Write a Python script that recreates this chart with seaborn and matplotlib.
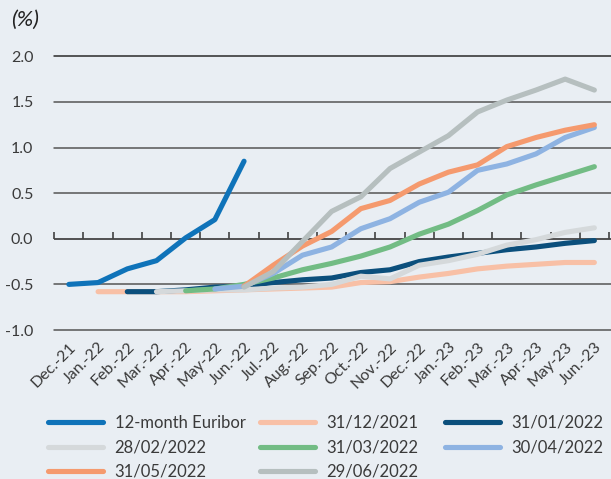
import matplotlib
matplotlib.use("Agg")
import matplotlib.pyplot as plt
import seaborn as sns
import pandas as pd
import numpy as np
from matplotlib.lines import Line2D

months = ["Dec.-21", "Jan.-22", "Feb.-22", "Mar.-22", "Apr.-22", "May-22", "Jun.-22",
          "Jul.-22", "Aug.-22", "Sep.-22", "Oct.-22", "Nov.-22", "Dec.-22", "Jan.-23",
          "Feb.-23", "Mar.-23", "Apr.-23", "May-23", "Jun.-23"]

euribor = [-0.50, -0.48, -0.33, -0.24, 0.01, 0.21, 0.85]
fwd_20211231 = [-0.58, -0.58, -0.58, -0.58, -0.57, -0.56, -0.55, -0.54, -0.53, -0.48,
                -0.47, -0.42, -0.38, -0.33, -0.30, -0.28, -0.26, -0.26]
fwd_20220131 = [-0.58, -0.58, -0.56, -0.53, -0.52, -0.48, -0.45, -0.43, -0.37, -0.34,
                -0.25, -0.20, -0.16, -0.12, -0.09, -0.05, -0.02]
fwd_20220228 = [-0.58, -0.57, -0.56, -0.56, -0.54, -0.53, -0.50, -0.41, -0.44, -0.29,
                -0.24, -0.17, -0.07, -0.01, 0.07, 0.12]
fwd_20220331 = [-0.57, -0.55, -0.50, -0.43, -0.34, -0.27, -0.19, -0.09, 0.05, 0.16,
                0.31, 0.48, 0.59, 0.69, 0.79]
fwd_20220430 = [-0.55, -0.52, -0.38, -0.18, -0.09, 0.11, 0.22, 0.40, 0.51, 0.75,
                0.82, 0.93, 1.11, 1.22]
fwd_20220531 = [-0.52, -0.29, -0.08, 0.08, 0.33, 0.42, 0.60, 0.73, 0.81, 1.01, 1.11,
                1.19, 1.25]
fwd_20220629 = [-0.53, -0.36, -0.03, 0.30, 0.46, 0.77, 0.95, 1.13, 1.39, 1.52, 1.63,
                1.75, 1.63]

series_names = ["12-month Euribor", "31/12/2021", "31/01/2022", "28/02/2022",
                "31/03/2022", "30/04/2022", "31/05/2022", "29/06/2022"]
series_values = [euribor, fwd_20211231, fwd_20220131, fwd_20220228,
                 fwd_20220331, fwd_20220430, fwd_20220531, fwd_20220629]
series_start = [0, 1, 2, 3, 4, 5, 6, 6]
colors = ["#0f73b9", "#f8c0a6", "#0b4f7c", "#d5d9db", "#72bc84", "#8eb3e2",
          "#f59a6e", "#b6bfbf"]

rows = []
for name, vals, st in zip(series_names, series_values, series_start):
    for k, v in enumerate(vals):
        rows.append({"series": name, "pos": st + k, "value": v})
df = pd.DataFrame(rows)

sns.set_theme(style="white")
plt.rcParams["font.family"] = ["Lato", "DejaVu Sans"]
bg = "#e9eef3"
txt = "#3a3a3a"

fig = plt.figure(figsize=(6.11, 4.79), dpi=100, facecolor=bg)
ax = fig.add_axes([54.3 / 611, 1 - 330 / 479, 1 - 54.3 / 611, (330 - 56.3) / 479])
ax.set_facecolor(bg)

# gridlines
for yv in [-1.0, -0.5, 0.5, 1.0, 1.5, 2.0]:
    ax.axhline(yv, color="#2a2a2a" if yv == 2.0 else "#555555", lw=1.1, zorder=1,
               clip_on=False)
ax.axhline(0.0, color="#444444", lw=1.3, zorder=1)

palette = dict(zip(series_names, colors))
draw_order = series_names[1:] + series_names[:1]
for name in draw_order:
    sub = df[df["series"] == name]
    sns.lineplot(data=sub, x="pos", y="value", color=palette[name], lw=3.7,
                 ax=ax, legend=False, zorder=3, solid_capstyle="round",
                 solid_joinstyle="round", clip_on=False)

ax.set_xlim(-0.5, 18.57)
ax.set_ylim(-1.0, 2.0)
ax.set_yticks([-1.0, -0.5, 0.0, 0.5, 1.0, 1.5, 2.0])
ax.set_yticklabels(["-1.0", "-0.5", "0.0", "0.5", "1.0", "1.5", "2.0"])
ax.tick_params(axis="y", length=0, pad=15, labelsize=11.5, labelcolor=txt)
ax.set_xticks(range(len(months)))
ax.set_xticklabels(months, rotation=45, ha="right", rotation_mode="anchor")
ax.tick_params(axis="x", length=0, pad=7, labelsize=11.5, labelcolor=txt)
ax.set_xlabel("")
ax.set_ylabel("")
for s in ax.spines.values():
    s.set_visible(False)

# tick marks on the zero line at month boundaries
sec = ax.secondary_xaxis(1 / 3)
sec.set_xticks(np.arange(len(months) + 1) - 0.5)
sec.set_xticklabels([])
for s in sec.spines.values():
    s.set_visible(False)
sec.xaxis.set_ticks_position("top")
sec.tick_params(axis="x", direction="out", length=5, width=1.1, color="#333333",
                labeltop=False)

fig.text(11 / 611, 1 - 20 / 479, "(%)", fontsize=16, style="italic", color="#222222",
         va="center", ha="left")

# legend: three fixed-width columns
handles = {n: Line2D([0], [0], color=c, lw=3.7, solid_capstyle="round")
           for n, c in zip(series_names, colors)}
columns = [["12-month Euribor", "28/02/2022", "31/05/2022"],
           ["31/12/2021", "31/03/2022", "29/06/2022"],
           ["31/01/2022", "30/04/2022"]]
col_x = [48, 260, 445]
for cx, names in zip(col_x, columns):
    leg = fig.legend([handles[n] for n in names], names, ncol=1, loc="upper left",
                     bbox_to_anchor=(cx / 611, 1 - 415 / 479), frameon=False,
                     fontsize=12, handlelength=3.3, handletextpad=0.7,
                     labelspacing=0.5, borderpad=0, borderaxespad=0,
                     labelcolor=txt)

fig.savefig("out.png", dpi=100, facecolor=bg)
